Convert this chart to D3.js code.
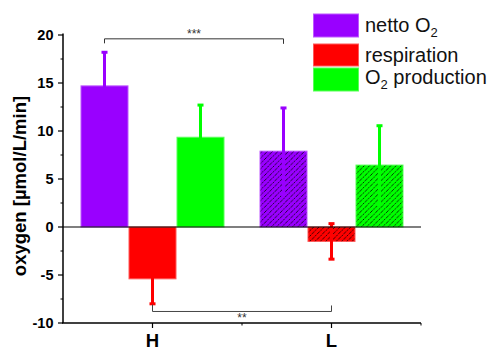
<!DOCTYPE html>
<html>
<head>
<meta charset="utf-8">
<script src="https://cdn.jsdelivr.net/npm/d3@7"></script>
<style>
  html, body { margin: 0; padding: 0; background: #fff; }
  svg { display: block; font-family: Arial, "Liberation Sans", sans-serif; }
</style>
</head>
<body>
<svg id="chart" width="490" height="349"></svg>
<script>
// ---- data ----
const categories = ["H", "L"];
const series = ["netto", "respiration", "production"];
const seriesColors = ["#9900ff", "#ff0000", "#00ff00"];
const nettoValues = [14.7, 7.9];
const nettoErrors = [3.5, 4.5];
const respirationValues = [-5.4, -1.5];
const respirationErrors = [2.6, 1.85];
const productionValues = [9.35, 6.45];
const productionErrors = [3.35, 4.1];
const hatched = [false, true];
const yTicks = [-10, -5, 0, 5, 10, 15, 20];
const yMinorTicks = [-7.5, -2.5, 2.5, 7.5, 12.5, 17.5];
const sigTop = { from: 0, to: 1, series: 0, label: "***", value: 19.6 };
const sigBottom = { from: 0, to: 1, series: 1, label: "**", value: -8.8 };

const values = [nettoValues, respirationValues, productionValues];
const errors = [nettoErrors, respirationErrors, productionErrors];

// ---- layout ----
const svg = d3.select("#chart");
const mLeft = 63, mRight = 421, mTop = 35, mBottom = 323;

const x0 = d3.scalePoint().domain(categories).range([mLeft, mRight]).padding(0.5);
const x1 = d3.scaleBand().domain(series).range([-72, 72]).padding(0);
const y = d3.scaleLinear().domain([-10, 20]).range([mBottom, mTop]);

// hatch pattern
const defs = svg.append("defs");
const pat = defs.append("pattern")
  .attr("id", "hatch").attr("patternUnits", "userSpaceOnUse")
  .attr("width", 5.3).attr("height", 5.3);
pat.append("path")
  .attr("d", "M0,5.3 L5.3,0 M-1.3,1.3 L1.3,-1.3 M4,6.6 L6.6,4")
  .attr("stroke", "#000").attr("stroke-width", 0.8).attr("stroke-dasharray", "2.2,1");

// bars
const barData = [];
categories.forEach((c, ci) => {
  series.forEach((s, si) => {
    barData.push({ c, ci, s, si, v: values[si][ci], e: errors[si][ci], color: seriesColors[si] });
  });
});

const gBars = svg.append("g");
barData.forEach(d => {
  const bx = x0(d.c) + x1(d.s);
  const bw = x1.bandwidth();
  const y0 = y(Math.max(0, d.v)), y1 = y(Math.min(0, d.v));
  gBars.append("rect")
    .attr("x", bx + 0.5).attr("y", y0)
    .attr("width", bw - 1).attr("height", y1 - y0)
    .attr("fill", d.color)
    .attr("stroke", d3.interpolateRgb(d.color, "#ffffff")(0.35))
    .attr("stroke-width", 1);
  if (hatched[d.ci]) {
    gBars.append("rect")
      .attr("x", bx + 1).attr("y", y0)
      .attr("width", bw - 2).attr("height", y1 - y0)
      .attr("fill", "url(#hatch)");
  }
});

// error bars
const gErr = svg.append("g");
barData.forEach(d => {
  const cx = x0(d.c) + x1(d.s) + x1.bandwidth() / 2;
  const yh = y(d.v + d.e), yl = y(d.v - d.e);
  gErr.append("line")
    .attr("x1", cx).attr("x2", cx).attr("y1", yh).attr("y2", yl)
    .attr("stroke", d.color).attr("stroke-width", 3);
  [yh, yl].forEach(yy => {
    gErr.append("rect")
      .attr("x", cx - 3).attr("y", yy - 1.5)
      .attr("width", 6).attr("height", 3)
      .attr("fill", d.color);
  });
});

// zero line
svg.append("line")
  .attr("x1", mLeft).attr("x2", mRight).attr("y1", y(0)).attr("y2", y(0))
  .attr("stroke", "#000").attr("stroke-width", 1.2);

// y axis
const yAxis = svg.append("g").attr("transform", `translate(${mLeft},0)`);
yAxis.append("line").attr("x1", 0).attr("x2", 0).attr("y1", y(20) - 1.5).attr("y2", y(-10))
  .attr("stroke", "#000").attr("stroke-width", 1.5);
yTicks.forEach(t => {
  yAxis.append("line").attr("x1", -5).attr("x2", 0).attr("y1", y(t)).attr("y2", y(t))
    .attr("stroke", "#000").attr("stroke-width", 1.2);
  yAxis.append("text").attr("x", -9.5).attr("y", y(t)).attr("dy", "0.36em")
    .attr("text-anchor", "end").attr("font-size", 14.5).attr("font-weight", "bold")
    .text(t);
});
yMinorTicks.forEach(t => {
  yAxis.append("line").attr("x1", -2.5).attr("x2", 0).attr("y1", y(t)).attr("y2", y(t))
    .attr("stroke", "#000").attr("stroke-width", 1);
});

// x axis
const xAxis = svg.append("g").attr("transform", `translate(0,${mBottom})`);
xAxis.append("line").attr("x1", mLeft - 1).attr("x2", mRight).attr("y1", 0).attr("y2", 0)
  .attr("stroke", "#000").attr("stroke-width", 1.5);
categories.forEach(c => {
  xAxis.append("line").attr("x1", x0(c)).attr("x2", x0(c)).attr("y1", 0).attr("y2", 5)
    .attr("stroke", "#000").attr("stroke-width", 1.2);
  xAxis.append("text").attr("x", x0(c)).attr("y", 23.5)
    .attr("text-anchor", "middle").attr("font-size", 18.5).attr("font-weight", "bold")
    .text(c);
});
[(x0(categories[0]) + x0(categories[1])) / 2, mRight].forEach(xx => {
  xAxis.append("line").attr("x1", xx).attr("x2", xx).attr("y1", 0).attr("y2", 2.5)
    .attr("stroke", "#000").attr("stroke-width", 1);
});

// y label
svg.append("text")
  .attr("transform", `translate(25.5,${(95 + 277) / 2}) rotate(-90)`)
  .attr("text-anchor", "middle").attr("font-size", 18.5).attr("font-weight", "bold")
  .text("oxygen [µmol/L/min]");

// significance brackets
function barCenter(ci, si) { return x0(categories[ci]) + x1(series[si]) + x1.bandwidth() / 2; }
{
  const xa = barCenter(sigTop.from, sigTop.series), xb = barCenter(sigTop.to, sigTop.series);
  const yy = y(sigTop.value);
  svg.append("path").attr("d", `M${xa},${yy + 4.5}V${yy}H${xb}V${yy + 5}`)
    .attr("fill", "none").attr("stroke", "#333").attr("stroke-width", 1);
  svg.append("text").attr("x", (xa + xb) / 2).attr("y", yy - 0.5)
    .attr("text-anchor", "middle").attr("font-size", 12).attr("fill", "#333").text(sigTop.label);
}
{
  const xa = barCenter(sigBottom.from, sigBottom.series), xb = barCenter(sigBottom.to, sigBottom.series);
  const yy = y(sigBottom.value);
  svg.append("path").attr("d", `M${xa},${yy - 7}V${yy}H${xb}V${yy - 6}`)
    .attr("fill", "none").attr("stroke", "#444").attr("stroke-width", 1);
  svg.append("text").attr("x", (xa + xb) / 2).attr("y", yy + 11)
    .attr("text-anchor", "middle").attr("font-size", 12).attr("fill", "#333").text(sigBottom.label);
}

// legend
const legendRows = [
  { top: 14, h: 23, base: 32 },
  { top: 44, h: 22, base: 62 },
  { top: 68, h: 23, base: 84 }
];
const lg = svg.append("g");
series.forEach((s, i) => {
  const r = legendRows[i];
  lg.append("rect").attr("x", 313.5).attr("y", r.top).attr("width", 45).attr("height", r.h)
    .attr("fill", seriesColors[i])
    .attr("stroke", d3.interpolateRgb(seriesColors[i], "#ffffff")(0.35)).attr("stroke-width", 1);
  const t = lg.append("text").attr("x", 365).attr("y", r.base).attr("font-size", 20).attr("fill", "#111");
  if (i === 0) {
    t.append("tspan").text("netto O");
    t.append("tspan").attr("font-size", 13).attr("dy", 5).text("2");
  } else if (i === 1) {
    t.text("respiration");
  } else {
    t.append("tspan").text("O");
    t.append("tspan").attr("font-size", 13).attr("dy", 5).text("2");
    t.append("tspan").attr("dy", -5).text(" production");
  }
});
</script>
</body>
</html>
